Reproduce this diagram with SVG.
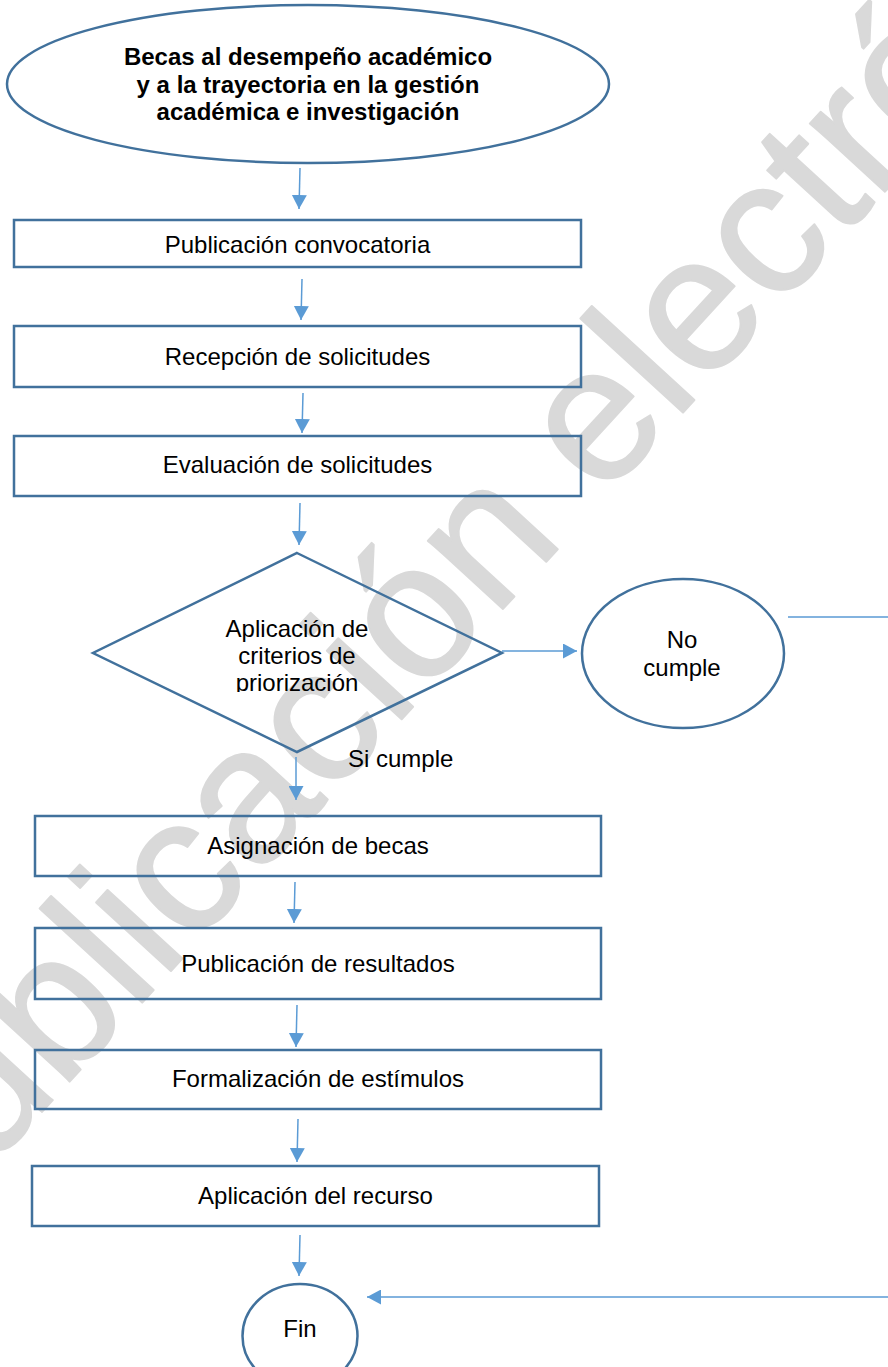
<svg xmlns="http://www.w3.org/2000/svg" width="888" height="1367" viewBox="0 0 888 1367">
<style>
.wm{font-family:"Liberation Sans",Arial,sans-serif;font-size:192px;fill:#d9d9d9;stroke:#d9d9d9;stroke-width:2;stroke-linejoin:round}
.shape{fill:none;stroke:#41719c;stroke-width:2.5}
.t{font-family:"Liberation Sans",Arial,sans-serif;font-size:24px;fill:#000;text-anchor:middle}
.tb{font-weight:bold}
.conn{fill:none;stroke:#5b9bd5;stroke-width:1.5}
</style>
<defs>
<marker id="arr" viewBox="0 0 14 15" refX="14" refY="7.5" markerWidth="14" markerHeight="15" markerUnits="userSpaceOnUse" orient="auto">
<path d="M0,0 L14,7.5 L0,15 Z" fill="#5b9bd5"/>
</marker>
<clipPath id="dclip"><rect x="80" y="540" width="440" height="152"/></clipPath>
</defs>
<rect width="888" height="1367" fill="#fff"/>
<g id="watermark">
<text class="wm" transform="translate(566,540) rotate(-47.5)" text-anchor="middle">Publicación electrónica</text>
</g>
<g id="connectors">
<path class="conn" d="M300,168 L299,209" marker-end="url(#arr)"/>
<path class="conn" d="M302,279 L301,320" marker-end="url(#arr)"/>
<path class="conn" d="M303,393 L302,433" marker-end="url(#arr)"/>
<path class="conn" d="M300,503 L299,545" marker-end="url(#arr)"/>
<path class="conn" d="M502,651 L577,651" marker-end="url(#arr)"/>
<path class="conn" d="M296,757 L296,800" marker-end="url(#arr)"/>
<path class="conn" d="M295,882 L294,923" marker-end="url(#arr)"/>
<path class="conn" d="M297,1005 L296,1047" marker-end="url(#arr)"/>
<path class="conn" d="M298,1119 L297,1162" marker-end="url(#arr)"/>
<path class="conn" d="M300,1235 L299,1276" marker-end="url(#arr)"/>
<path class="conn" d="M788,617 H900 V1297 H367" marker-end="url(#arr)"/>
</g>
<g id="start">
<ellipse class="shape" cx="308" cy="84" rx="301" ry="79"/>
<text class="t tb" x="308" y="65">Becas al desempeño académico</text>
<text class="t tb" x="308" y="93">y a la trayectoria en la gestión</text>
<text class="t tb" x="308" y="120">académica e investigación</text>
</g>
<g id="publicacion-convocatoria">
<rect class="shape" x="14" y="220" width="567" height="47"/>
<text class="t" x="297.5" y="253">Publicación convocatoria</text>
</g>
<g id="recepcion">
<rect class="shape" x="14" y="326" width="567" height="61"/>
<text class="t" x="297.5" y="365">Recepción de solicitudes</text>
</g>
<g id="evaluacion">
<rect class="shape" x="14" y="436" width="567" height="60"/>
<text class="t" x="297.5" y="473">Evaluación de solicitudes</text>
</g>
<g id="decision">
<polygon class="shape" stroke-width="2" points="297,553 502,653 297,752 93,653"/>
<g clip-path="url(#dclip)">
<text class="t" x="297" y="637">Aplicación de</text>
<text class="t" x="297" y="664">criterios de</text>
<text class="t" x="297" y="691">priorización</text>
</g>
</g>
<g id="no-cumple">
<ellipse class="shape" cx="683" cy="653.5" rx="101" ry="74.5"/>
<text class="t" x="682" y="648">No</text>
<text class="t" x="682" y="676">cumple</text>
</g>
<g id="si-cumple-label">
<text class="t" x="348" y="767" style="text-anchor:start">Si cumple</text>
</g>
<g id="asignacion">
<rect class="shape" x="35" y="816" width="566" height="60"/>
<text class="t" x="318" y="854">Asignación de becas</text>
</g>
<g id="publicacion-resultados">
<rect class="shape" x="35" y="928" width="566" height="71"/>
<text class="t" x="318" y="972">Publicación de resultados</text>
</g>
<g id="formalizacion">
<rect class="shape" x="35" y="1050" width="566" height="59"/>
<text class="t" x="318" y="1087">Formalización de estímulos</text>
</g>
<g id="aplicacion-recurso">
<rect class="shape" x="32" y="1166" width="567" height="60"/>
<text class="t" x="315.5" y="1204">Aplicación del recurso</text>
</g>
<g id="fin">
<ellipse class="shape" cx="300" cy="1336" rx="57.5" ry="52"/>
<text class="t" x="300" y="1337">Fin</text>
</g>
</svg>
